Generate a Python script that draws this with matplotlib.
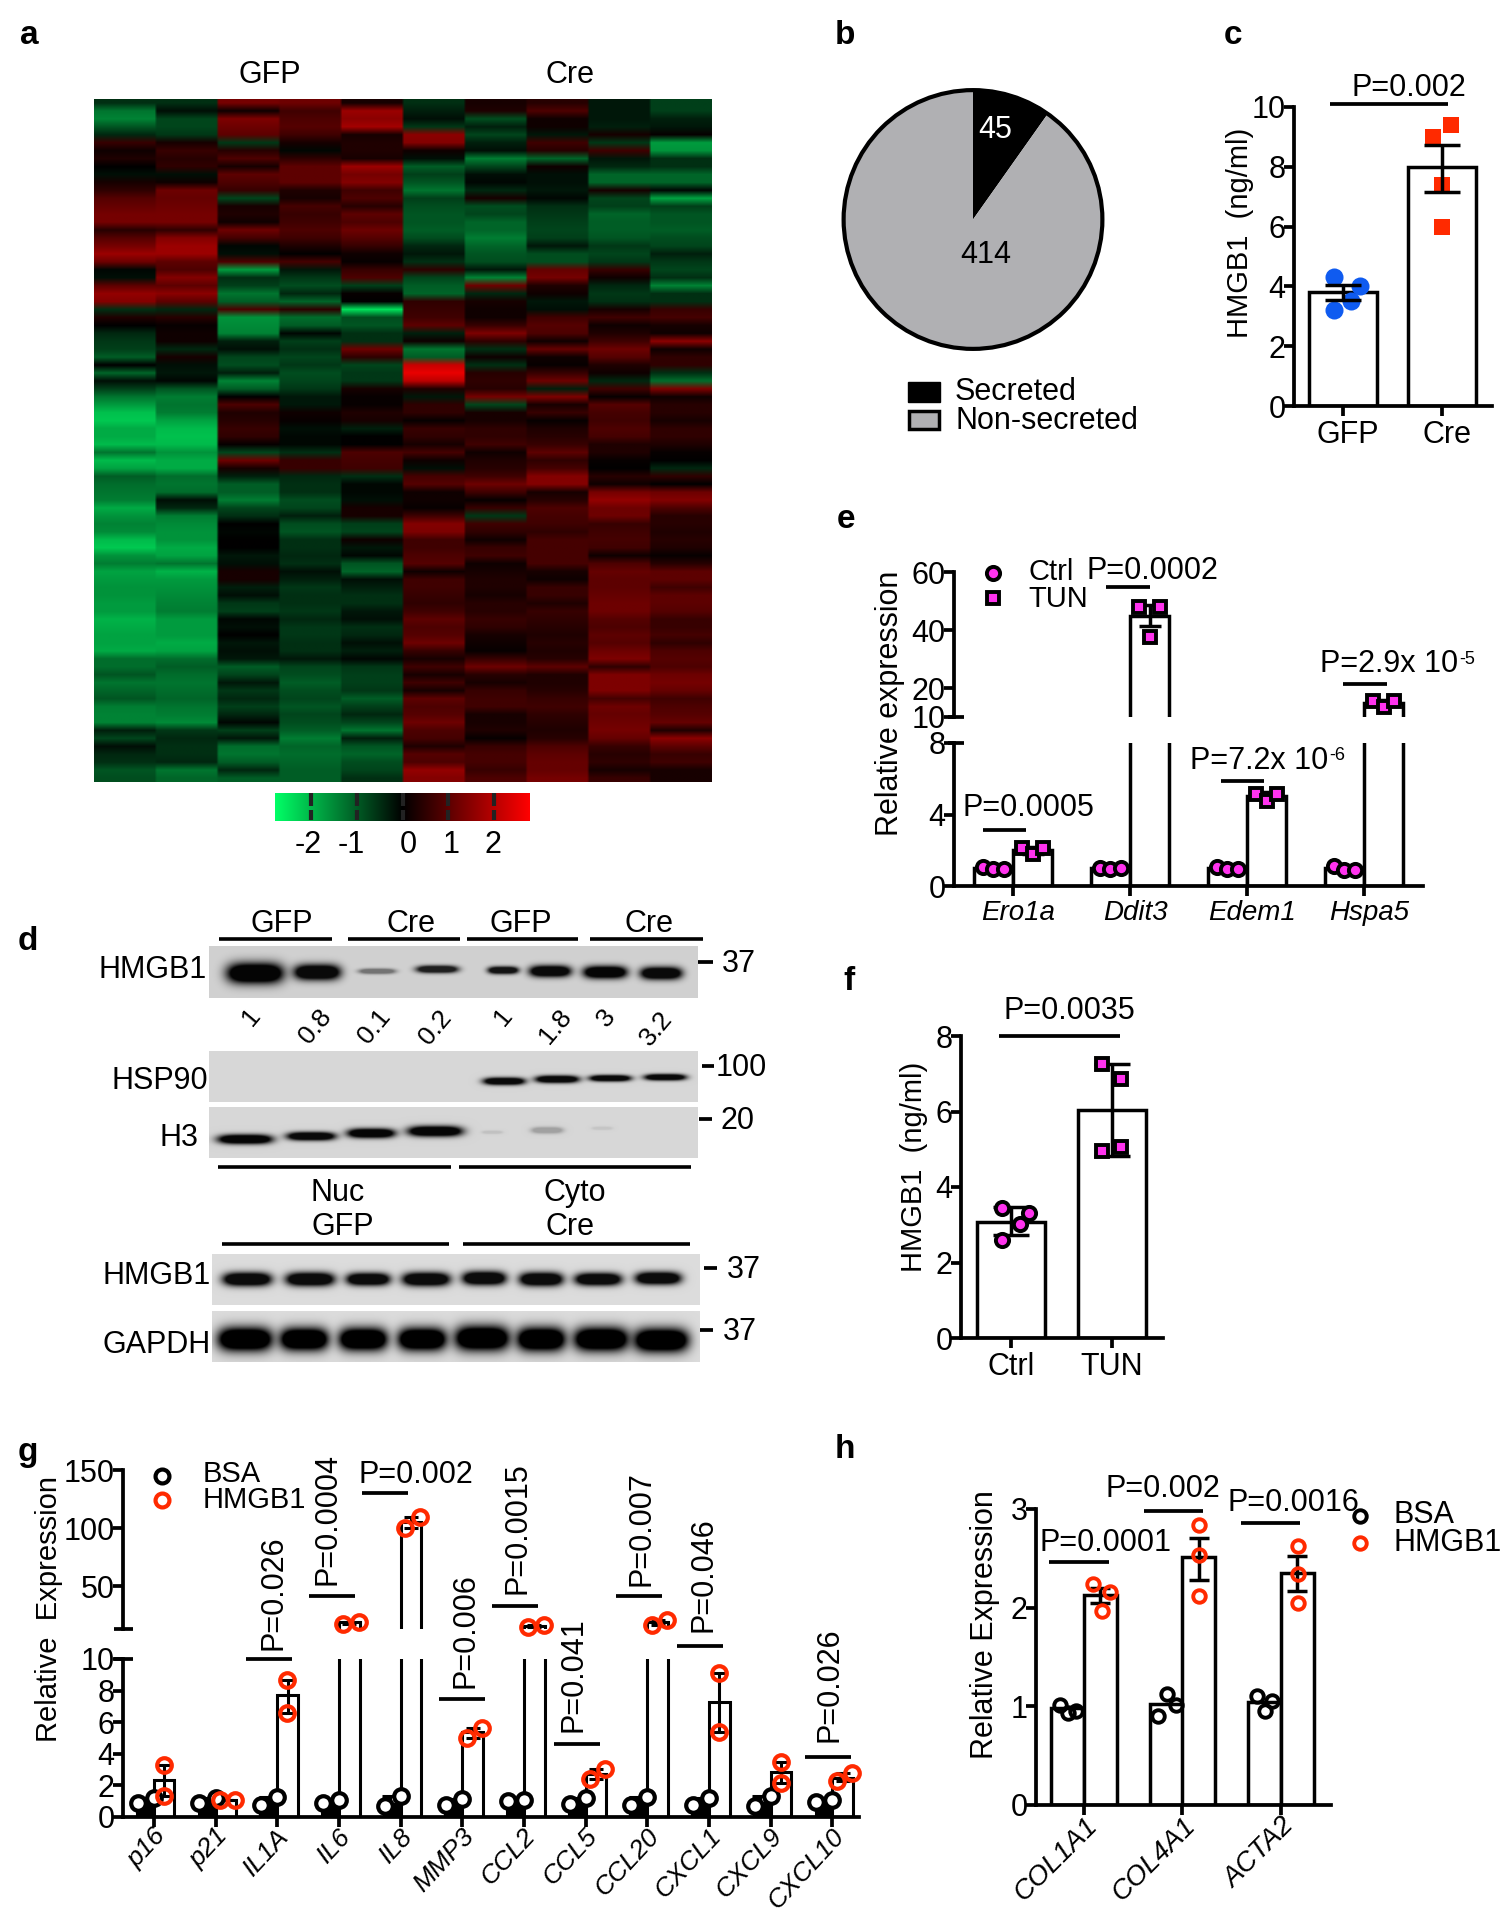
import numpy as np
import matplotlib
matplotlib.use("Agg")
from matplotlib import pyplot as plt
from matplotlib.colors import LinearSegmentedColormap
from matplotlib.patches import Rectangle
from matplotlib.transforms import ScaledTranslation

W, H = 1507, 1920
plt.rcParams['font.family'] = ['Liberation Sans', 'DejaVu Sans']
plt.rcParams['mathtext.default'] = 'regular'

MAG = '#FF33EE'
RED = '#FF2A00'
AX_LW = 2.7
BAR_LW = 2.5
TICK_FS = 22
TXT_FS = 22

# panel a, heatmap, values x10, one row per line, top to bottom
heat_rows = [
    [-6, -6, 15, 14, 3, -6, 3, 5, -3, -8],
    [-15, -2, 2, 8, 20, -4, 4, 10, -3, -8],
    [-17, -9, 16, 10, 18, -2, -10, 2, -3, -4],
    [-11, -9, 14, 11, 21, -7, -4, 2, -4, -3],
    [-5, -7, 12, 8, 3, 18, -9, -3, 3, 1],
    [7, 3, -7, 3, 4, 17, -4, 8, -7, -20],
    [2, 7, 5, -1, 4, 2, -2, 5, 8, -19],
    [4, 5, 10, 6, 3, -2, -16, -13, -3, -6],
    [0, 6, 3, 12, 20, -12, -9, 2, -5, -6],
    [-2, -2, 12, 12, 15, -8, -2, -2, -13, -13],
    [3, 2, 10, 12, 17, -11, -1, -2, -13, -13],
    [6, 14, 7, 4, 8, -15, -5, -3, 3, -1],
    [11, 13, -9, 3, 10, -8, 3, -1, -9, -21],
    [13, 14, 3, 9, 5, -10, -10, -6, -8, -8],
    [15, 15, 4, 7, 12, -11, -9, -7, -13, -11],
    [15, 15, 2, 8, 10, -11, -13, -8, -12, -11],
    [5, 6, 14, 10, 14, -12, -13, -9, -12, -12],
    [11, 17, 9, 8, 11, -10, -16, -8, -11, -10],
    [15, 20, -1, 4, 7, -5, -13, -3, -7, -9],
    [20, 20, -2, 0, 2, -3, -11, -10, -9, -4],
    [14, 12, 10, 9, 1, -6, -10, -10, -7, -7],
    [-1, 10, -20, -3, 7, 6, -3, 13, 7, -9],
    [-2, 17, -6, -7, 10, -9, -17, 15, 2, -6],
    [12, 12, -8, -10, -8, -12, 14, 4, -5, -17],
    [19, 18, -15, -5, 1, -13, -5, 2, -7, -6],
    [17, 12, -12, -13, 0, 6, 3, -3, -6, -6],
    [-6, -5, 10, 6, -29, 7, 2, -2, 3, 7],
    [4, 5, -19, -14, -10, 8, 2, 8, 8, 9],
    [0, 1, -18, -12, -11, 12, 7, 11, 2, 3],
    [-5, 2, -17, -1, -6, -4, 16, 10, 4, 2],
    [-7, 2, -4, -8, -6, 2, 6, 2, 8, 18],
    [-8, -5, -2, -6, 14, -15, -6, 13, 14, 2],
    [-12, 3, -9, -9, 6, -12, 2, 2, 11, 6],
    [0, -2, -10, -7, -9, 26, -6, 1, 4, 6],
    [-13, -3, -4, -10, -7, 30, 5, 7, 2, -6],
    [-2, -1, -17, -9, -7, 24, 6, 14, -5, -14],
    [-8, -11, -12, -7, 3, 4, 5, -4, 8, 16],
    [-15, -16, 0, -3, 1, -3, 15, 16, 1, 2],
    [-20, -15, 10, -3, 1, 6, -9, 3, 11, 5],
    [-25, -16, 4, 2, 4, 6, 3, 7, 9, 5],
    [-26, -21, 5, 1, 3, 1, 3, 1, 8, 3],
    [-22, -24, 7, -2, -4, 7, 6, 4, 10, 6],
    [-22, -25, 6, -1, 0, 6, 6, 5, 9, 6],
    [-24, -24, 1, -1, 0, 3, 8, 7, 4, 4],
    [-15, -19, -9, -6, 10, 9, 2, 12, 4, 1],
    [-24, -22, 14, 7, 9, 2, 4, 6, 1, 0],
    [-21, -22, 3, 7, 8, -2, 5, 9, 0, -5],
    [-12, -14, -4, -5, -6, 9, 8, 17, 5, 6],
    [-14, -15, -12, -6, -1, 11, 14, 17, 2, 0],
    [-15, -14, -12, -6, -1, 2, 8, 3, 15, 14],
    [-16, -2, -16, -10, -2, 2, 1, 5, 19, 17],
    [-22, -5, -9, -9, 3, 1, 7, 10, 14, 10],
    [-19, -16, -6, -4, 3, 8, -7, 9, 14, 5],
    [-17, -18, 0, -10, -8, 17, 8, 8, 7, 5],
    [-18, -19, -1, -11, -9, 16, 6, 6, 8, 4],
    [-24, -19, 0, -6, 2, 8, 2, 9, 9, 5],
    [-26, -22, 0, -6, -3, 8, 7, 9, 8, 4],
    [-19, -21, -3, -5, -1, 10, 8, 9, 2, 1],
    [-16, -15, -2, -6, -11, 11, 2, 9, 10, 5],
    [-21, -23, 3, -2, -13, 2, 3, 3, 13, 12],
    [-20, -20, 3, -4, -2, 8, 4, 2, 12, 12],
    [-19, -19, -4, -7, -4, 8, 4, 7, 12, 8],
    [-19, -18, -2, -6, -6, 7, 3, 7, 13, 12],
    [-20, -17, -7, -6, -6, 6, 5, 4, 14, 12],
    [-20, -16, -8, -7, -3, 8, 5, 7, 14, 11],
    [-23, -20, -1, -5, -2, 12, 7, 6, 11, 7],
    [-22, -20, -2, -7, -6, 10, 6, 5, 10, 7],
    [-21, -20, 0, -7, -5, 11, 3, 4, 12, 9],
    [-21, -22, -3, -6, -2, 14, 2, 5, 11, 6],
    [-22, -21, -2, -6, -4, 7, 1, 4, 14, 10],
    [-14, -14, -3, -3, -1, 3, 7, 5, 16, 11],
    [-14, -12, -12, -9, -7, 8, 14, 12, 6, 10],
    [-11, -14, -9, -10, -8, 3, 5, 4, 16, 14],
    [-15, -15, -3, -12, -8, 8, 3, 4, 16, 15],
    [-13, -14, -7, -10, -7, 3, 7, 5, 16, 13],
    [-11, -13, -5, -9, -12, 12, 8, 7, 9, 8],
    [-16, -15, -8, -11, -8, 10, 8, 8, 14, 10],
    [-17, -16, -5, -9, -5, 11, 3, 6, 13, 11],
    [-17, -18, -1, -10, -9, 14, 3, 5, 14, 13],
    [-4, -7, -8, -12, -15, 10, 4, 4, 15, 4],
    [-9, -5, -3, -16, -4, 9, 1, 5, 13, 18],
    [-2, -6, -14, -13, -11, 4, 7, 10, 7, 12],
    [-5, -6, -15, -14, -13, 11, 9, 12, 5, 7],
    [-6, -5, -12, -13, -10, 10, 9, 13, 6, 8],
    [-11, -15, -5, -12, -9, 19, 7, 13, 3, 3],
    [-10, -13, -12, -12, -6, 17, 10, 15, 7, 3],
]
cbar_ticks = [-2, -1, 0, 1, 2]

# panel b
pie_vals = [45, 414]
pie_names = ['Secreted', 'Non-secreted']

# panel c
c_names = ['GFP', 'Cre']
c_means = [3.8, 8.0]
c_lo = [3.55, 7.16]
c_hi = [4.05, 8.72]
c_gfp = [4.3, 4.0, 3.5, 3.2]
c_gfp_dx = [-0.09, 0.17, 0.08, -0.09]
c_cre = [9.4, 9.0, 7.4, 6.0]
c_cre_dx = [0.09, -0.09, 0, 0]

# panel e
e_names = ['Ero1a', 'Ddit3', 'Edem1', 'Hspa5']
e_ctrl_mean = [1.0, 1.0, 1.0, 1.0]
e_tun_mean = [2.0, 45.0, 5.05, 15.0]
e_ctrl = [[1.05, 0.97, 0.97], [1.03, 0.94, 1.03], [1.07, 0.94, 0.94], [1.1, 0.92, 0.92]]
e_tun = [[2.13, 1.78, 2.13], [48.1, 37.7, 48.1], [5.15, 4.78, 5.15], [15.5, 13.5, 15.5]]
e_tun_err = [0.2, 3.5, 0.2, 0.8]
e_ctrl_dx = [-0.26, -0.17, -0.08]
e_tun_dx = [0.08, 0.17, 0.26]

# panel f
f_names = ['Ctrl', 'TUN']
f_means = [3.08, 6.03]
f_lo = [2.72, 4.82]
f_hi = [3.48, 7.25]
f_ctrl = [3.44, 3.32, 3.02, 2.6]
f_ctrl_dx = [-0.09, 0.18, 0.09, -0.09]
f_tun = [7.27, 6.87, 5.07, 4.95]
f_tun_dx = [-0.1, 0.09, 0.09, -0.1]

# panel g
g_names = ['p16', 'p21', 'IL1A', 'IL6', 'IL8', 'MMP3', 'CCL2', 'CCL5', 'CCL20', 'CXCL1', 'CXCL9', 'CXCL10']
g_bsa = [[0.88, 1.2], [0.88, 1.2], [0.74, 1.24], [0.88, 1.1], [0.67, 1.3], [0.78, 1.16],
         [1.0, 1.05], [0.84, 1.2], [0.78, 1.24], [0.78, 1.2], [0.67, 1.35], [0.93, 1.1]]
g_hmgb1 = [[3.3, 1.35], [1.05, 1.1], [8.67, 6.57], [18, 19.4], [100, 109.4], [5.03, 5.66],
           [15.1, 16.5], [2.4, 3.03], [17, 20.8], [9.14, 5.35], [3.47, 2.15], [2.25, 2.78]]
g_hmgb1_mean = [2.36, 1.07, 7.73, 19, 105, 5.35, 16, 2.7, 19, 7.25, 2.85, 2.5]
g_bsa_dx = [-0.26, 0.0]
g_hmgb1_dx = [[0.16, 0.16], [0.07, 0.32], [0.16, 0.16], [0.07, 0.32], [0.07, 0.32], [0.07, 0.32],
              [0.07, 0.32], [0.07, 0.32], [0.07, 0.32], [0.16, 0.16], [0.16, 0.16], [0.07, 0.32]]

# panel h
h_names = ['COL1A1', 'COL4A1', 'ACTA2']
h_bsa_mean = [0.98, 1.02, 1.04]
h_hmgb1_mean = [2.13, 2.51, 2.35]
h_bsa = [[1.01, 0.93, 0.95], [1.12, 1.01, 0.90], [1.10, 1.05, 0.95]]
h_bsa_dx = [[-0.24, -0.16, -0.08], [-0.16, -0.07, -0.25], [-0.24, -0.09, -0.16]]
h_hmgb1 = [[2.24, 2.16, 1.97], [2.84, 2.53, 2.12], [2.63, 2.34, 2.05]]
h_hmgb1_dx = [[0.09, 0.26, 0.18], [0.17, 0.17, 0.17], [0.17, 0.17, 0.17]]
h_lo = [2.05, 2.28, 2.17]
h_hi = [2.2, 2.71, 2.52]

# panel d, bands: centre x, centre y, width, height, darkness, in figure pixels
d_hmgb1 = [(255, 973, 56, 20, .98), (317, 972, 46, 15, .95), (377, 971, 36, 5, .45), (437, 969, 41, 7, .85),
           (503, 970, 30, 7, .9), (550, 971, 41, 11, .95), (605, 972, 43, 12, .97), (661, 973, 41, 12, .95)]
d_hsp90 = [(504, 1081, 41, 7, .95), (557, 1079, 43, 7, .95), (610, 1078, 41, 6, .95), (665, 1077, 41, 6, .95)]
d_h3 = [(245, 1139, 54, 9, .97), (311, 1136, 48, 8, .95), (371, 1133, 47, 9, .97), (435, 1131, 54, 10, .97),
        (492, 1132, 20, 3, .1), (547, 1130, 31, 6, .25), (602, 1128, 20, 3, .08)]
d_hmgb1b = [(247, 1279, 48, 13, .95), (310, 1279, 48, 13, .95), (368, 1279, 43, 12, .95), (426, 1279, 47, 13, .95),
            (484, 1278, 43, 13, .95), (541, 1279, 43, 13, .95), (598, 1279, 46, 12, .95), (658, 1278, 45, 12, .95)]
d_gapdh = [(245, 1339, 54, 23, 1), (304, 1339, 48, 22, 1), (363, 1339, 48, 22, 1), (422, 1339, 48, 22, 1),
           (482, 1338, 54, 24, 1), (541, 1339, 48, 23, 1), (601, 1339, 54, 23, 1), (661, 1340, 54, 23, 1)]
d_ratios = ['1', '0.8', '0.1', '0.2', '1', '1.8', '3', '3.2']


def px_ax(x0, y0, x1, y1):
    return fig.add_axes([x0 / W, 1 - y1 / H, (x1 - x0) / W, (y1 - y0) / H])


def style_ax(ax, bottom=True):
    ax.patch.set_alpha(0)
    ax.spines['top'].set_visible(False)
    ax.spines['right'].set_visible(False)
    ax.spines['left'].set_linewidth(AX_LW)
    ax.spines['bottom'].set_linewidth(AX_LW)
    ax.spines['bottom'].set_visible(bottom)
    ax.tick_params(axis='y', length=7, width=AX_LW, labelsize=TICK_FS, pad=-1)
    ax.tick_params(axis='x', length=7 if bottom else 0, width=AX_LW, labelsize=TICK_FS, pad=3,
                   labelbottom=bottom)


def shift_labels(ax, dx, dy=0):
    for lbl in ax.get_xticklabels():
        lbl.set_transform(lbl.get_transform() + ScaledTranslation(dx / 100, dy / 100, fig.dpi_scale_trans))


def break_cap(ax, y, ext):
    ax.plot([-0.012, ext], [y, y], transform=ax.get_yaxis_transform(), clip_on=False,
            color='k', lw=AX_LW, solid_capstyle='butt')


def dots(ax, x, y, marker, ms=9, face=MAG, edge='k', mew=2.8, zorder=5):
    ax.plot(x, y, ls='none', marker=marker, ms=ms, mfc=face, mec=edge, mew=mew, clip_on=False, zorder=zorder)


def err(ax, x, mean, lo, hi, cap, lw=BAR_LW):
    ax.errorbar([x], [mean], yerr=[[mean - lo], [hi - mean]], color='k', elinewidth=lw, capthick=lw,
                capsize=cap, zorder=4, clip_on=False)


def sig(x0, x1, y, lw=2.7):
    ov.plot([x0, x1], [y, y], color='k', lw=lw, solid_capstyle='butt')


def txt(x, y, s, fs=TXT_FS, ha='center', va='center', **kw):
    if 'rotation' not in kw:
        y = y + 2
    ov.text(x, y, s, fontsize=fs, ha=ha, va=va, **kw)


def blot(x0, y0, x1, y1, bg, bands):
    ax = px_ax(x0, y0, x1, y1)
    xx, yy = np.meshgrid(np.arange(x0, x1, 0.5), np.arange(y0, y1, 0.5))
    img = np.full(xx.shape, bg, dtype=float)
    for cx, cy, w, h, dark in bands:
        shape = np.exp(-((xx - cx) / (w / 2)) ** 4 - ((yy - cy) / (h / 2)) ** 2)
        img *= 1 - dark * np.clip(1.8 * shape, 0, 1)
    ax.imshow(img, cmap='gray', vmin=0, vmax=1, extent=(x0, x1, y1, y0), aspect='auto', interpolation='bilinear')
    ax.axis('off')


fig = plt.figure(figsize=(W / 100, H / 100), dpi=100)
ov = fig.add_axes([0, 0, 1, 1], zorder=20)
ov.set_xlim(0, W)
ov.set_ylim(H, 0)
ov.axis('off')

for s, x, y in [('a', 29, 33), ('b', 845, 33), ('c', 1233, 33), ('d', 28, 940), ('e', 846, 518),
                ('f', 849, 979), ('g', 28, 1450), ('h', 845, 1447)]:
    txt(x, y, s, fs=24, fontweight='bold')

# a
gmap = LinearSegmentedColormap.from_list('gbr', [(0, 1, 0.4), (0, 0, 0), (1, 0, 0)])
heat = np.array(heat_rows) / 10
ax = px_ax(94, 99, 712, 782)
ax.imshow(np.repeat(heat, 24, axis=1), cmap=gmap, vmin=-3.3, vmax=3.3, aspect='auto', interpolation='bilinear')
ax.axis('off')
txt(270, 73, 'GFP')
txt(570, 73, 'Cre')

ax = px_ax(275, 793, 530, 821)
ax.imshow(np.linspace(-2.8, 2.8, 256)[None, :], cmap=gmap, vmin=-2.8, vmax=2.8, aspect='auto',
          extent=(-2.8, 2.8, 0, 1))
ax.axis('off')
for v in cbar_ticks:
    ax.plot([v, v], [0.02, 0.4], color='#222222', lw=3, solid_capstyle='butt')
    ax.plot([v, v], [0.55, 1], color='#222222', lw=3, solid_capstyle='butt')
for s, x in zip(cbar_ticks, [308, 351, 408, 451, 493]):
    txt(x, 843, str(s), fs=TICK_FS)

# b
ax = px_ax(841, 87, 1105, 352)
ax.pie(pie_vals, colors=['k', '#B0B0B3'], startangle=90, counterclock=False, radius=1,
       wedgeprops={'edgecolor': 'k', 'linewidth': 0})
ring = plt.Circle((0, 0), 0.99, fill=False, ec='k', lw=3)
ax.add_patch(ring)
ax.set_xlim(-1.01, 1.01)
ax.set_ylim(-1.01, 1.01)
txt(995, 128, str(pie_vals[0]), color='w')
txt(986, 253, str(pie_vals[1]))
ov.add_patch(Rectangle((908, 382), 32, 20, fc='k', ec='k', lw=1))
ov.add_patch(Rectangle((909, 411), 30, 18, fc='#B0B0B3', ec='k', lw=2.5))
txt(955, 390, pie_names[0], ha='left')
txt(955, 419, pie_names[1], ha='left')

# c
ax = px_ax(1294, 107, 1492, 406)
style_ax(ax)
ax.bar([0, 1], c_means, 0.69, fc='w', ec='k', lw=BAR_LW, zorder=1)
dots(ax, np.array(c_gfp_dx), c_gfp, 'o', ms=13, face='#0F5BF0', edge='none', mew=0, zorder=3)
dots(ax, 1 + np.array(c_cre_dx), c_cre, 's', ms=11, face=RED, edge='none', mew=0, zorder=3)
for i in range(2):
    err(ax, i, c_means[i], c_lo[i], c_hi[i], 13)
ax.set_xlim(-0.495, 1.505)
ax.set_ylim(0, 10)
ax.set_yticks([0, 2, 4, 6, 8, 10])
ax.set_xticks([0, 1], c_names)
shift_labels(ax, 5)
txt(1240, 233, 'HMGB1  (ng/ml)', fs=21, rotation=90)
sig(1330, 1448, 104)
txt(1409, 86, 'P=0.002')

# e
ax_lo = px_ax(954, 743, 1423, 886)
ax_up = px_ax(954, 572, 1423, 717)
x = np.arange(4)
for ax in (ax_lo, ax_up):
    ax.bar(x - 0.167, e_ctrl_mean, 0.333, fc='w', ec='k', lw=BAR_LW, zorder=1)
    ax.bar(x + 0.167, e_tun_mean, 0.333, fc='w', ec='k', lw=BAR_LW, zorder=1)
    ax.set_xlim(-0.504, 3.504)
style_ax(ax_lo)
style_ax(ax_up, bottom=False)
ax_lo.set_ylim(0, 8)
ax_up.set_ylim(10, 60)
ax_lo.set_yticks([0, 4, 8])
ax_up.set_yticks([10, 20, 40, 60])
ax_up.set_xticks([])
ax_lo.set_xticks(x, e_names, style='italic', fontsize=20)
shift_labels(ax_lo, 5)
break_cap(ax_lo, 8, 0.021)
break_cap(ax_up, 10, 0.021)
for i in range(4):
    dots(ax_lo, i + np.array(e_ctrl_dx), e_ctrl[i], 'o', ms=9.5)
    ax_t = ax_lo if e_tun_mean[i] < 8 else ax_up
    err(ax_t, i + 0.167, e_tun_mean[i], e_tun_mean[i] - e_tun_err[i], e_tun_mean[i] + e_tun_err[i], 8)
    dots(ax_t, i + np.array(e_tun_dx), e_tun[i], 's', ms=9)
dots(ov, [993], [573], 'o', ms=9.5)
dots(ov, [993], [598], 's', ms=9)
txt(1028, 570, 'Ctrl', fs=21, ha='left')
txt(1028, 597, 'TUN', fs=21, ha='left')
txt(890, 703, 'Relative expression', rotation=90)
sig(983, 1026, 830)
txt(1028, 806, 'P=0.0005')
sig(1106, 1150, 587)
txt(1152, 569, 'P=0.0002')
sig(1221, 1264, 781)
txt(1190, 759, 'P=7.2x 10', ha='left')
txt(1329, 754, '-6', fs=13, ha='left')
sig(1343, 1387, 684)
txt(1320, 662, 'P=2.9x 10', ha='left')
txt(1459, 657, '-5', fs=13, ha='left')

# f
ax = px_ax(961, 1036, 1163, 1338)
style_ax(ax)
ax.bar([0, 1], f_means, 0.67, fc='w', ec='k', lw=BAR_LW, zorder=1)
for i in range(2):
    err(ax, i, f_means[i], f_lo[i], f_hi[i], 13)
dots(ax, np.array(f_ctrl_dx), f_ctrl, 'o', ms=9.5)
dots(ax, 1 + np.array(f_tun_dx), f_tun, 's', ms=9)
ax.set_xlim(-0.495, 1.505)
ax.set_ylim(0, 8)
ax.set_yticks([0, 2, 4, 6, 8])
ax.set_xticks([0, 1], f_names)
txt(914, 1167, 'HMGB1  (ng/ml)', fs=21, rotation=90)
sig(999, 1120, 1036)
txt(1069, 1009, 'P=0.0035')

# g
ax_lo = px_ax(123, 1659, 859, 1817)
ax_up = px_ax(123, 1470, 859, 1629)
x = np.arange(12)
bsa_mean = np.mean(g_bsa, axis=1)
ax_lo.bar(x - 0.15, bsa_mean * 0.85, 0.25, fc='k', ec='k', lw=2.2, zorder=1)
for ax in (ax_lo, ax_up):
    ax.bar(x + 0.167, g_hmgb1_mean, 0.335, fc='w', ec='k', lw=2.2, zorder=1)
    ax.set_xlim(-0.5, 11.43)
style_ax(ax_lo)
style_ax(ax_up, bottom=False)
ax_lo.set_ylim(0, 10)
ax_up.set_ylim(13.4, 150)
ax_lo.set_yticks([0, 2, 4, 6, 8, 10])
ax_up.set_yticks([50, 100, 150])
ax_up.set_xticks([])
ax_lo.set_xticks(x, g_names, style='italic', fontsize=19, rotation=47, ha='right', rotation_mode='anchor')
shift_labels(ax_lo, -1, 7)
break_cap(ax_lo, 10, 0.014)
break_cap(ax_up, 13.4, 0.014)
for i in range(12):
    err(ax_lo, i - 0.167, bsa_mean[i], min(g_bsa[i]) - 0.3, max(g_bsa[i]), 6, lw=2.2)
    dots(ax_lo, i + np.array(g_bsa_dx), g_bsa[i], 'o', ms=10.5, face='w', edge='k', mew=3)
    vals = np.array(g_hmgb1[i])
    m = g_hmgb1_mean[i]
    ax_t = ax_lo if m < 10 else ax_up
    err(ax_t, i + 0.167, m, vals.min(), vals.max(), 5, lw=2.2)
    dots(ax_t, i + np.array(g_hmgb1_dx[i]), vals, 'o', ms=10.5, face='none', edge=RED, mew=3)
dots(ov, [162], [1476], 'o', ms=10, face='none', edge='k', mew=3)
dots(ov, [162], [1500], 'o', ms=10, face='none', edge=RED, mew=3)
txt(203, 1472, 'BSA', fs=21, ha='left')
txt(203, 1498, 'HMGB1', fs=21, ha='left')
txt(49, 1609, 'Relative  Expression', fs=21, rotation=90)
for x0, x1, y in [(246, 292, 1659), (309, 355, 1596), (362, 408, 1493), (439, 485, 1699), (492, 538, 1606),
                  (554, 600, 1744), (616, 662, 1596), (677, 723, 1646), (805, 851, 1757)]:
    sig(x0, x1, y)
for s, x, y in [('P=0.026', 273, 1650), ('P=0.0004', 328, 1585), ('P=0.006', 465, 1688), ('P=0.0015', 518, 1594),
                ('P=0.041', 574, 1732), ('P=0.007', 641, 1586), ('P=0.046', 703, 1632), ('P=0.026', 830, 1742)]:
    txt(x, y, s, rotation=90, va='bottom')
txt(416, 1473, 'P=0.002')

# h
ax = px_ax(1036, 1509, 1331, 1805)
style_ax(ax)
x = np.arange(3)
ax.bar(x - 0.167, h_bsa_mean, 0.335, fc='w', ec='k', lw=BAR_LW, zorder=1)
ax.bar(x + 0.167, h_hmgb1_mean, 0.335, fc='w', ec='k', lw=BAR_LW, zorder=1)
for i in range(3):
    err(ax, i + 0.167, h_hmgb1_mean[i], h_lo[i], h_hi[i], 7)
    dots(ax, i + np.array(h_bsa_dx[i]), h_bsa[i], 'o', ms=9, face='none', edge='k')
    dots(ax, i + np.array(h_hmgb1_dx[i]), h_hmgb1[i], 'o', ms=9, face='none', edge=RED)
ax.set_xlim(-0.487, 2.508)
ax.set_ylim(0, 3)
ax.set_yticks([0, 1, 2, 3])
ax.set_xticks(x, h_names, style='italic', fontsize=20, rotation=45, ha='right', rotation_mode='anchor')
shift_labels(ax, 0, 6)
dots(ov, [1360], [1516], 'o', ms=9, face='none', edge='k')
dots(ov, [1360], [1543], 'o', ms=9, face='none', edge=RED)
txt(1394, 1513, 'BSA', ha='left')
txt(1394, 1541, 'HMGB1', ha='left')
txt(985, 1625, 'Relative Expression', rotation=90)
sig(1049, 1109, 1562)
txt(1106, 1541, 'P=0.0001')
sig(1144, 1203, 1511)
txt(1163, 1487, 'P=0.002')
sig(1241, 1300, 1523)
txt(1293, 1501, 'P=0.0016')

# d
blot(209, 946, 698, 998, 0.82, d_hmgb1)
blot(209, 1051, 698, 1102, 0.84, d_hsp90)
blot(209, 1107, 698, 1158, 0.84, d_h3)
blot(212, 1254, 700, 1305, 0.86, d_hmgb1b)
blot(212, 1311, 700, 1362, 0.86, d_gapdh)
for x0, x1 in [(219, 332), (348, 460), (467, 578), (590, 703)]:
    sig(x0, x1, 939, lw=2.6)
for x0, x1 in [(218, 451), (459, 691)]:
    sig(x0, x1, 1167, lw=2.6)
for x0, x1 in [(222, 449), (463, 690)]:
    sig(x0, x1, 1244, lw=2.6)
for s, xc in zip(['GFP', 'Cre', 'GFP', 'Cre'], [282, 411, 521, 649]):
    txt(xc, 922, s)
for s, xr, y in [('HMGB1', 207, 968), ('HSP90', 208, 1079), ('H3', 199, 1136), ('HMGB1', 211, 1274), ('GAPDH', 211, 1343)]:
    txt(xr, y, s, ha='right')
for s, xc, y in zip(d_ratios, [251, 315, 374, 435, 503, 555, 606, 656], [1017, 1027, 1027, 1027, 1017, 1027, 1018, 1028]):
    txt(xc, y, s, fs=19, rotation=50)
for x0, x1, y, s, xt in [(698, 713, 962, '37', 722), (702, 714, 1066, '100', 716), (699, 712, 1119, '20', 721),
                         (704, 717, 1268, '37', 727), (700, 713, 1330, '37', 723)]:
    sig(x0, x1, y)
    txt(xt, y, s, fs=TICK_FS, ha='left')
txt(338, 1191, 'Nuc')
txt(575, 1191, 'Cyto')
txt(343, 1225, 'GFP')
txt(570, 1225, 'Cre')

fig.savefig('out.png', dpi=100)
